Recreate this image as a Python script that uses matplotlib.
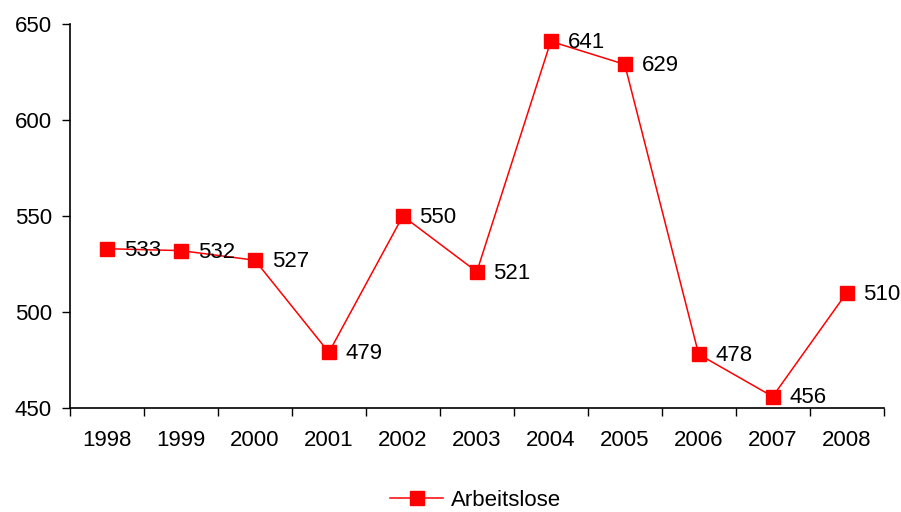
import matplotlib
matplotlib.use("Agg")
from matplotlib import pyplot as plt

years = ["1998", "1999", "2000", "2001", "2002", "2003", "2004", "2005", "2006", "2007", "2008"]
arbeitslose = [533, 532, 527, 479, 550, 521, 641, 629, 478, 456, 510]

plt.rcParams['font.family'] = ['Liberation Sans', 'DejaVu Sans']
fs = 16

fig = plt.figure(figsize=(9.01, 5.12), dpi=100)
ax = fig.add_axes([0.0777, 0.203, 0.903, 0.750])

x = list(range(len(years)))
ax.plot(x, arbeitslose, color="#ff0000", linewidth=1.1, marker="s", markersize=10,
        markerfacecolor="#ff0000", markeredgecolor="#ff0000", label="Arbeitslose")

# Datenbeschriftung rechts neben den Punkten
for xi, v in zip(x, arbeitslose):
    ax.annotate(str(v), (xi, v), xytext=(12, -1), textcoords="offset points",
                ha="left", va="center", fontsize=fs)

ax.set_xlim(-0.5, len(years) - 0.5)
ax.set_ylim(450, 650)
ax.set_yticks([450, 500, 550, 600, 650])
ax.set_xticks(x)
ax.set_xticklabels(years)
ax.set_xticks([i + 0.5 for i in range(-1, len(years))], minor=True)
ax.tick_params(axis="x", which="major", length=0, pad=16, labelsize=fs)
ax.tick_params(axis="x", which="minor", length=6, direction="out", width=1)
ax.tick_params(axis="y", length=6, direction="out", width=1, labelsize=fs, pad=7)

for s in ["top", "right"]:
    ax.spines[s].set_visible(False)
for s in ["left", "bottom"]:
    ax.spines[s].set_linewidth(1.2)

fig.legend(loc="lower center", bbox_to_anchor=(0.528, -0.028), frameon=False,
           fontsize=fs, handlelength=2.4, handletextpad=0.35,
           borderpad=0.2)

fig.savefig("out.png", dpi=100)
